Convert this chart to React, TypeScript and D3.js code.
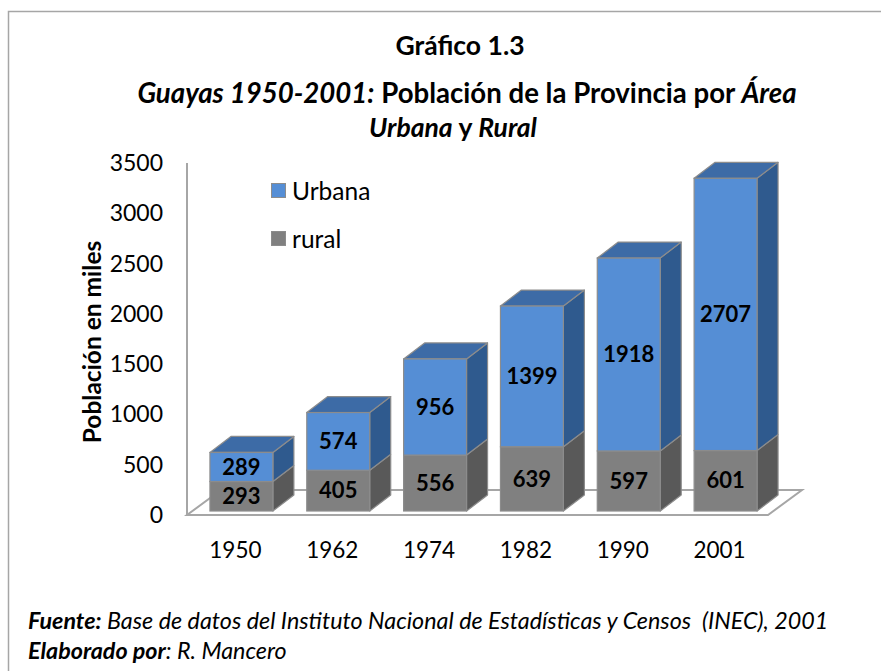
import * as d3 from "d3";

const years = ["1950", "1962", "1974", "1982", "1990", "2001"];
const rural = [293, 405, 556, 639, 597, 601];
const urbana = [289, 574, 956, 1399, 1918, 2707];
const yTicks = [0, 500, 1000, 1500, 2000, 2500, 3000, 3500];

const W = 881;
const H = 671;
const FONT = "Lato, 'Open Sans', sans-serif";

// 3D offsets
const floorDx = 34;
const floorDy = -25;
const barFrontDx = 6;
const barFrontDy = -4;
const barDx = 21;
const barDy = -16;

const colors = {
  urbFront: "#558ED5",
  urbSide: "#2F5A8E",
  urbTop: "#3D6BA6",
  rurFront: "#808080",
  rurSide: "#595959",
  rurTop: "#6B6B6B",
  edge: "#8C8C8C",
};

const App = () => {
  const x = d3.scaleBand<string>().domain(years).range([187, 768]);
  const y = d3.scaleLinear().domain([0, 3500]).range([515, 163]);
  const bw = x.bandwidth() * 0.65;

  const box = (x0: number, yBot: number, yTop: number, front: string, side: string, top: string, drawTop: boolean) => {
    const x1 = x0 + bw;
    const sidePts = [[x1, yBot], [x1 + barDx, yBot + barDy], [x1 + barDx, yTop + barDy], [x1, yTop]];
    const topPts = [[x0, yTop], [x1, yTop], [x1 + barDx, yTop + barDy], [x0 + barDx, yTop + barDy]];
    const pts = (p: number[][]) => p.map((q) => q.join(",")).join(" ");
    return (
      <g>
        <polygon points={pts(sidePts)} fill={side} stroke={colors.edge} strokeWidth={1.2} strokeLinejoin="round" />
        {drawTop && <polygon points={pts(topPts)} fill={top} stroke={colors.edge} strokeWidth={1.2} strokeLinejoin="round" />}
        <rect x={x0} y={yTop} width={bw} height={yBot - yTop} fill={front} stroke={colors.edge} strokeWidth={1.2} />
      </g>
    );
  };

  const y0 = y(0);
  const xL = x.range()[0];
  const xR = x.range()[1];

  return (
    <svg width={W} height={H} style={{ position: "absolute", left: 0, top: 0 }} fontFamily={FONT}>
      <rect x={0} y={0} width={W} height={H} fill="#fff" />
      <rect x={8.5} y={11.5} width={W + 20} height={H + 20} fill="none" stroke="#A6A6A6" strokeWidth={1.5} />

      {/* title */}
      <text x={460} y={55} textAnchor="middle" fontSize={26.5} fontWeight="bold">Gráfico 1.3</text>
      <text x={467} y={103} textAnchor="middle" fontSize={27.6} fontWeight="bold">
        <tspan fontStyle="italic">Guayas 1950-2001:</tspan>
        <tspan> Población de la Provincia por </tspan>
        <tspan fontStyle="italic">Área</tspan>
      </text>
      <text x={453} y={137} textAnchor="middle" fontSize={26.5} fontWeight="bold">
        <tspan fontStyle="italic">Urbana</tspan>
        <tspan> y </tspan>
        <tspan fontStyle="italic">Rural</tspan>
      </text>

      {/* floor */}
      <polygon
        points={[[xL, y0], [xR, y0], [xR + floorDx, y0 + floorDy], [xL + floorDx, y0 + floorDy]].map((p) => p.join(",")).join(" ")}
        fill="#fff"
        stroke="#A6A6A6"
        strokeWidth={2}
      />
      <line x1={xL} x2={xL} y1={y(3500)} y2={y0} stroke="#A6A6A6" strokeWidth={2} />

      {/* y ticks */}
      {yTicks.map((t) => (
        <text key={t} x={163} y={y(t)} dy="0.35em" textAnchor="end" fontSize={23}>{t}</text>
      ))}
      <text transform={`translate(101,342) rotate(-90)`} textAnchor="middle" fontSize={24.5} fontWeight="bold">Población en miles</text>

      {/* x labels */}
      {years.map((yr) => (
        <text key={yr} x={(x(yr) ?? 0) + x.bandwidth() / 2} y={558} textAnchor="middle" fontSize={22.5}>{yr}</text>
      ))}

      {/* bars */}
      {years.map((yr, i) => {
        const x0 = (x(yr) ?? 0) + (x.bandwidth() - bw) / 2 + barFrontDx;
        const yb = y(0) + barFrontDy;
        const yr1 = y(rural[i]) + barFrontDy;
        const yu = y(rural[i] + urbana[i]) + barFrontDy;
        return (
          <g key={yr}>
            {box(x0, yb, yr1, colors.rurFront, colors.rurSide, colors.rurTop, false)}
            {box(x0, yr1, yu, colors.urbFront, colors.urbSide, colors.urbTop, true)}
            <text x={x0 + bw / 2} y={(yb + yr1) / 2} dy="0.35em" textAnchor="middle" fontSize={22} fontWeight="bold">{rural[i]}</text>
            <text x={x0 + bw / 2} y={(yr1 + yu) / 2} dy="0.35em" textAnchor="middle" fontSize={22} fontWeight="bold">{urbana[i]}</text>
          </g>
        );
      })}

      {/* legend */}
      <rect x={271.5} y={183.5} width={14} height={14} fill={colors.urbFront} stroke={colors.edge} strokeWidth={1} />
      <text x={292} y={191} dy="0.35em" fontSize={24.5}>Urbana</text>
      <rect x={271.5} y={231.5} width={14} height={14} fill={colors.rurFront} stroke={colors.edge} strokeWidth={1} />
      <text x={292} y={239} dy="0.35em" fontSize={24.5}>rural</text>

      {/* footer */}
      <text x={28} y={629} fontSize={23.3} fontStyle="italic" style={{ whiteSpace: "pre" }}>
        <tspan fontWeight="bold">Fuente:</tspan>
        <tspan> Base de datos del Instituto Nacional de Estadísticas y Censos  (INEC), 2001</tspan>
      </text>
      <text x={28} y={659} fontSize={23.3} fontStyle="italic" style={{ whiteSpace: "pre" }}>
        <tspan fontWeight="bold">Elaborado por</tspan>
        <tspan>: R. Mancero</tspan>
      </text>
    </svg>
  );
};

export default App;
